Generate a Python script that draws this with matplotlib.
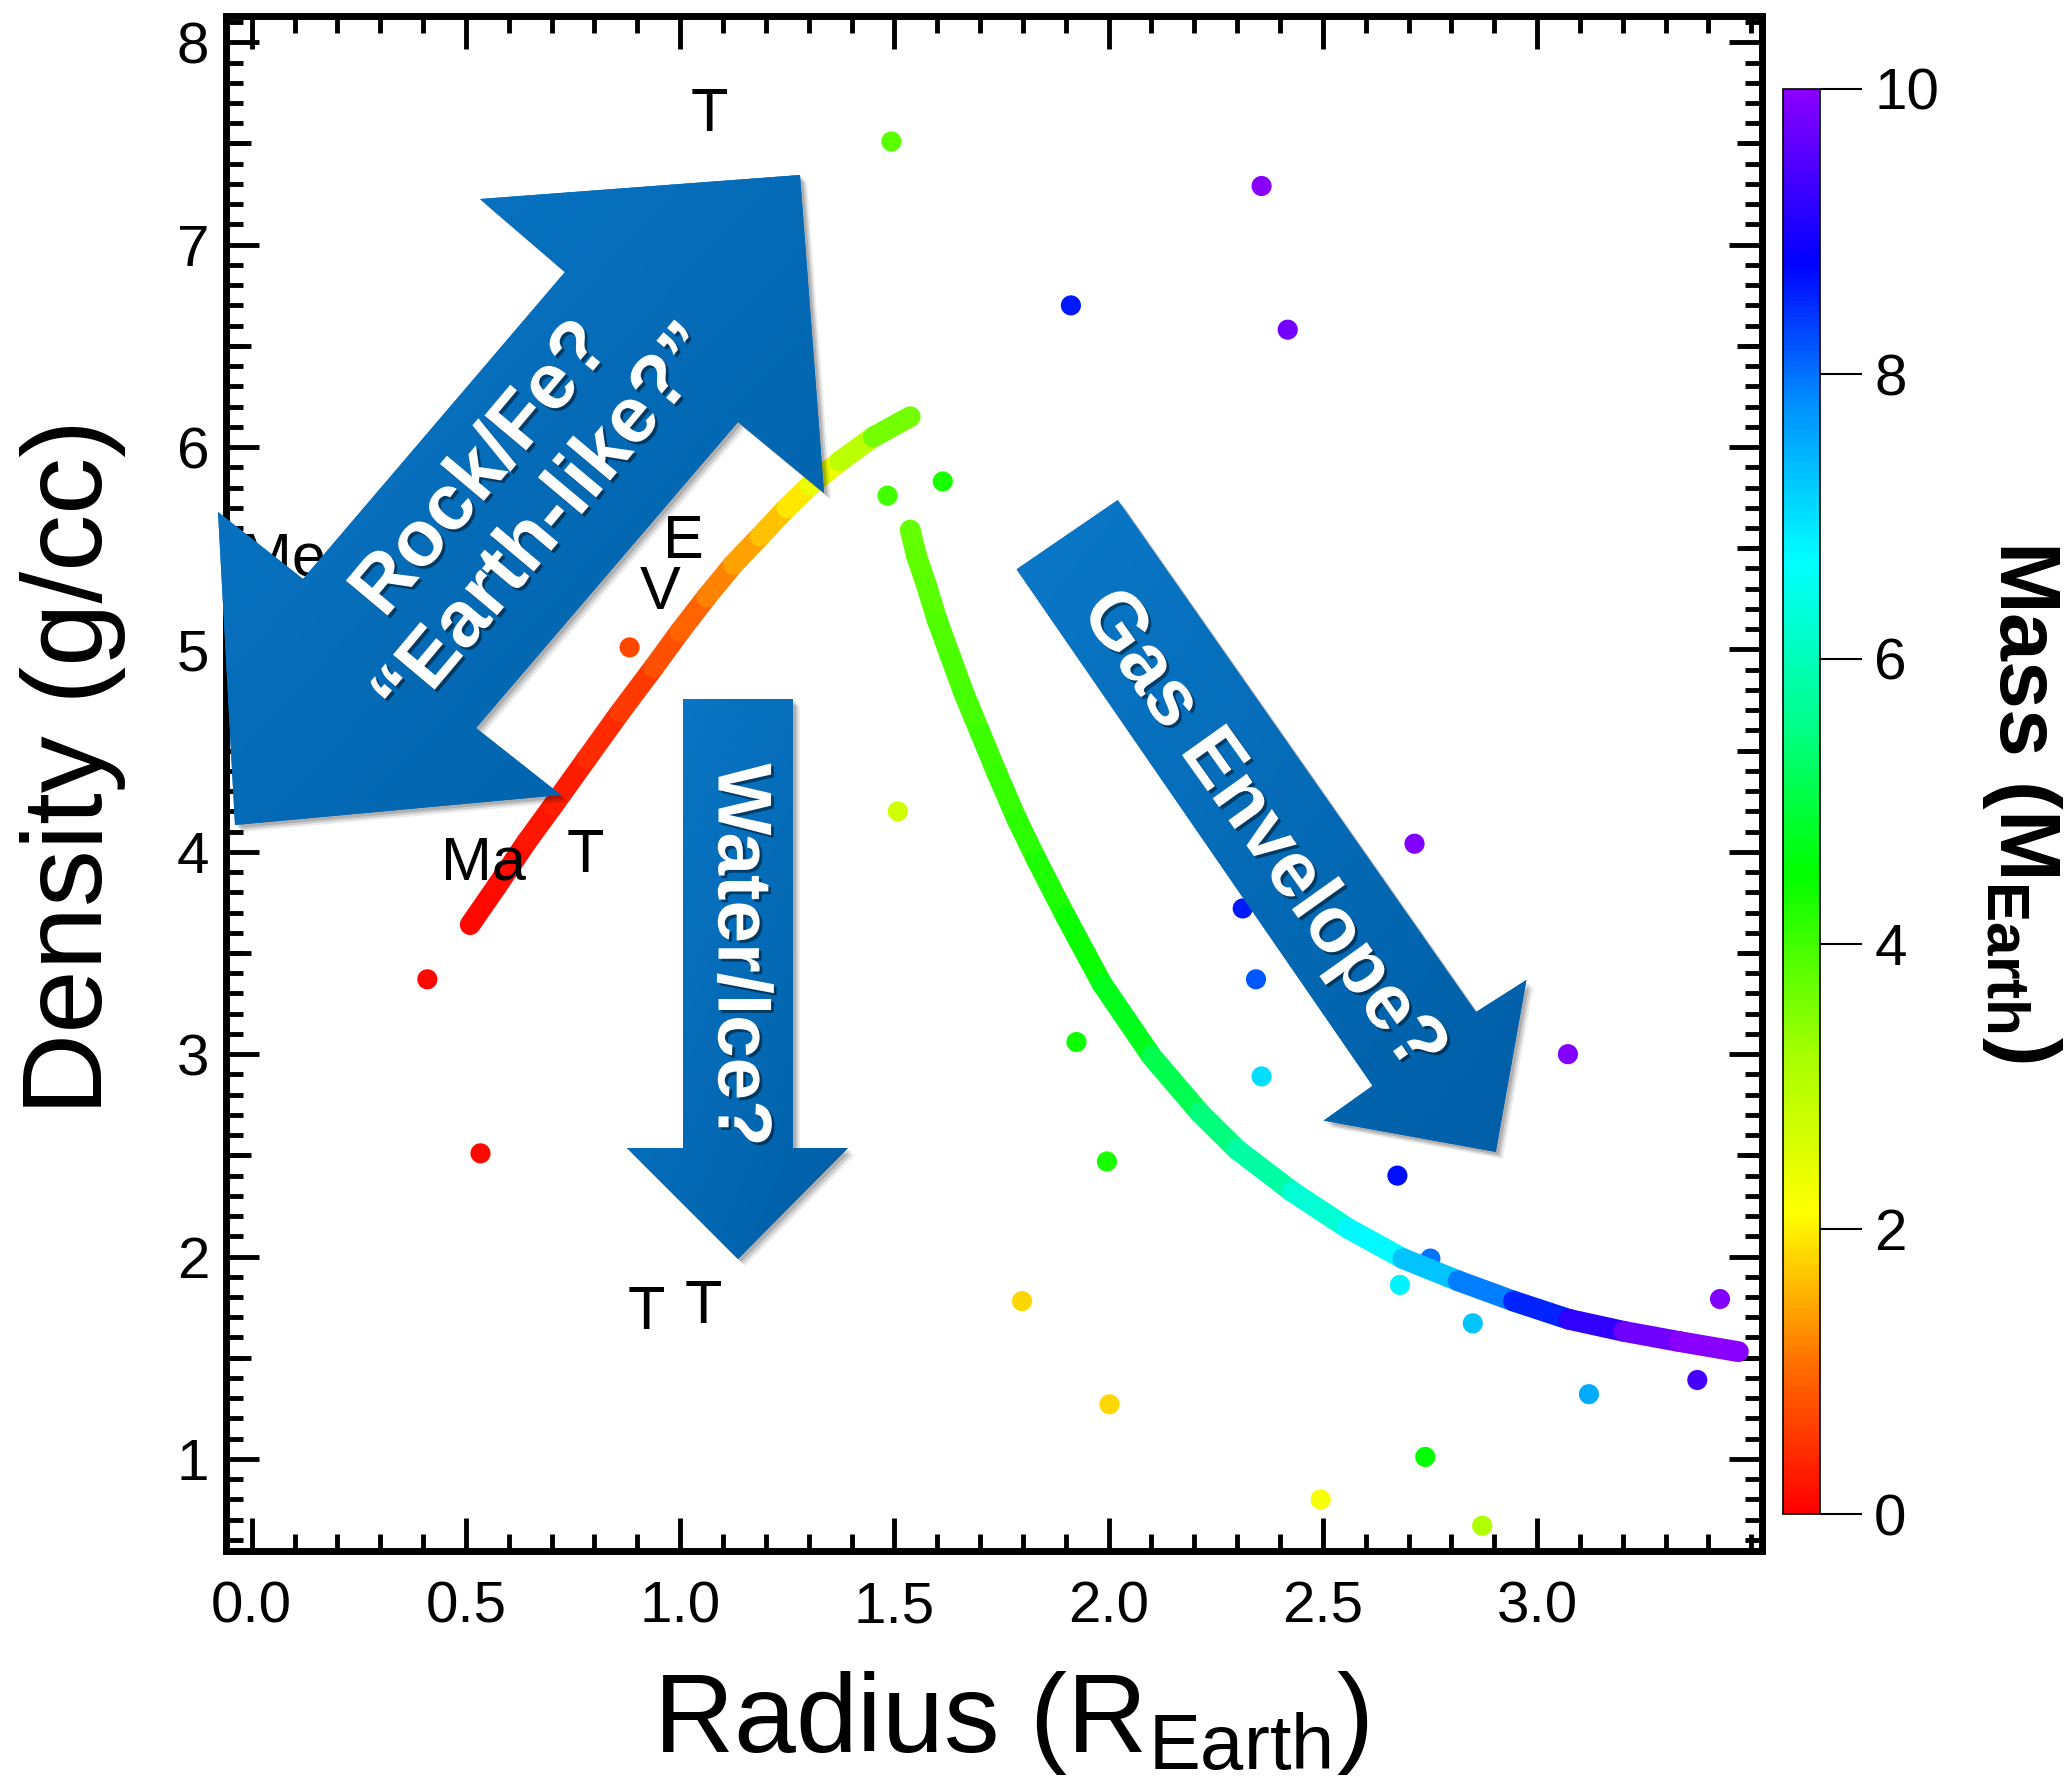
import numpy as np
import matplotlib
matplotlib.use("Agg")
import matplotlib.pyplot as plt
from matplotlib.colors import LinearSegmentedColormap, Normalize
from matplotlib.collections import LineCollection
from matplotlib.patches import Polygon
from matplotlib.ticker import MultipleLocator, FixedLocator, FormatStrFormatter
import matplotlib.patheffects as pe

plt.rcParams['font.family'] = 'Liberation Sans'
plt.rcParams['mathtext.fontset'] = 'custom'
plt.rcParams['mathtext.rm'] = 'Liberation Sans'
plt.rcParams['mathtext.it'] = 'Liberation Sans:italic'
plt.rcParams['mathtext.bf'] = 'Liberation Sans:bold'

# exoplanets: radius (R_earth), density (g/cc), mass (M_earth)
planet_radius = [1.493, 2.357, 1.912, 2.418, 1.484, 1.613, 0.882, 1.508, 2.714, 2.313,
                 2.344, 0.410, 1.925, 3.072, 2.357, 1.996, 0.534, 2.674, 2.751, 2.680,
                 2.850, 3.427, 3.374, 3.121, 1.798, 2.002, 2.739, 2.495, 2.872]
planet_density = [7.51, 7.29, 6.70, 6.58, 5.76, 5.83, 5.01, 4.20, 4.04, 3.72,
                  3.37, 3.37, 3.06, 3.00, 2.89, 2.47, 2.51, 2.40, 1.99, 1.86,
                  1.67, 1.79, 1.39, 1.32, 1.78, 1.27, 1.01, 0.80, 0.67]
planet_mass = [3.8, 10.0, 8.6, 9.8, 4.0, 4.3, 0.7, 2.7, 9.9, 8.6,
               8.2, 0.1, 4.4, 9.9, 7.0, 4.3, 0.1, 8.7, 8.0, 6.8,
               7.3, 9.9, 9.4, 7.5, 1.8, 1.8, 4.5, 2.2, 3.1]

# rocky (Earth-like) track
rock_radius = [0.510, 0.572, 0.642, 0.704, 0.782, 0.860, 0.938, 1.000, 1.062, 1.124,
               1.187, 1.249, 1.303, 1.373, 1.451, 1.537]
rock_density = [3.64, 3.83, 4.05, 4.23, 4.46, 4.69, 4.91, 5.09, 5.26, 5.42,
                5.56, 5.70, 5.81, 5.93, 6.05, 6.15]
rock_mass = [0.09, 0.12, 0.18, 0.25, 0.35, 0.5, 0.65, 0.85, 1.05, 1.3,
             1.55, 1.8, 2.1, 2.6, 3.3, 3.9]

# gas envelope track
gas_radius = [1.537, 1.552, 1.576, 1.599, 1.630, 1.661, 1.700, 1.739, 1.786, 1.832,
              1.900, 1.984, 2.100, 2.213, 2.299, 2.429, 2.558, 2.687, 2.816, 2.945,
              3.074, 3.203, 3.332, 3.470]
gas_density = [5.59, 5.46, 5.31, 5.15, 4.97, 4.79, 4.59, 4.39, 4.16, 3.96,
               3.68, 3.35, 2.99, 2.71, 2.53, 2.32, 2.14, 1.99, 1.88, 1.78,
               1.69, 1.63, 1.58, 1.53]
gas_mass = [3.7, 3.75, 3.8, 3.85, 3.9, 3.95, 4.0, 4.05, 4.1, 4.2,
            4.35, 4.55, 4.9, 5.3, 5.6, 6.0, 6.5, 7.0, 7.6, 8.2,
            8.9, 9.5, 10.0, 10.0]

# solar system labels
ss_names = ["T", "Me", "E", "V", "Ma", "T", "T", "T"]
ss_radius = [1.067, 0.074, 1.008, 0.953, 0.541, 0.778, 0.922, 1.055]
ss_density = [7.64, 5.44, 5.53, 5.275, 3.94, 3.977, 1.72, 1.75]

W, H = 2070, 1786

cmap = LinearSegmentedColormap.from_list('mass', [
    (0.0, '#ff0000'), (0.1, '#ff6a00'), (0.21, '#ffff00'), (0.32, '#a8ff00'),
    (0.45, '#00ff00'), (0.56, '#00ff90'), (0.67, '#00ffff'), (0.78, '#0090ff'),
    (0.88, '#0000ff'), (1.0, '#8a00ff')])
norm = Normalize(0, 10)

fig = plt.figure(figsize=(W / 100, H / 100), dpi=100)
ax = fig.add_axes([226 / W, 1 - 1551 / H, 1536 / W, 1535 / H])


def band(x, y, m):
    pts = np.column_stack([x, y])
    segs = np.stack([pts[:-1], pts[1:]], axis=1)
    m = np.asarray(m)
    lc = LineCollection(segs, cmap=cmap, norm=norm, linewidths=15,
                        capstyle='round', joinstyle='round', zorder=3)
    lc.set_array((m[:-1] + m[1:]) / 2)
    ax.add_collection(lc)


band(rock_radius, rock_density, rock_mass)
band(gas_radius, gas_density, gas_mass)
ax.scatter(planet_radius, planet_density, c=planet_mass, cmap=cmap, norm=norm,
           s=210, edgecolors='none', zorder=2)

for name, xr, yd in zip(ss_names, ss_radius, ss_density):
    ax.text(xr, yd, name, fontsize=44, ha='center', va='center', zorder=4)

ax.set_xlim(-0.06, 3.525)
ax.set_ylim(0.545, 8.13)
ax.xaxis.set_major_locator(FixedLocator(np.arange(0, 3.01, 0.5)))
ax.xaxis.set_major_formatter(FormatStrFormatter('%.1f'))
ax.xaxis.set_minor_locator(MultipleLocator(0.1))
ax.yaxis.set_major_locator(FixedLocator(np.arange(1, 9, 1)))
ax.yaxis.set_major_formatter(FormatStrFormatter('%d'))
ax.yaxis.set_minor_locator(MultipleLocator(0.1))
ax.tick_params(which='both', direction='in', top=True, right=True, width=3.5)
ax.tick_params(which='major', length=24, labelsize=42)
ax.tick_params(which='minor', length=12)
ax.tick_params(axis='x', which='major', pad=21)
ax.tick_params(axis='y', which='major', pad=12)
for s in ax.spines.values():
    s.set_linewidth(5)

# half-unit ticks on the density axis
for side in ('left', 'right'):
    sec = ax.secondary_yaxis(side)
    sec.yaxis.set_major_locator(FixedLocator(np.arange(1.5, 8, 1.0)))
    sec.tick_params(direction='in', length=18, width=3.5,
                    labelleft=False, labelright=False)
    for s in sec.spines.values():
        s.set_visible(False)

ax.set_xlabel(r'Radius (R$_{\rm Earth}$)', fontsize=80)
ax.xaxis.set_label_coords(0.511, -0.112)
ax.xaxis.label.set_va('center')
ax.set_ylabel('Density (g/cc)', fontsize=82)
ax.yaxis.set_label_coords(-0.0996, 0.511)
ax.yaxis.label.set_va('center')

# colorbar
cax = fig.add_axes([1783 / W, 1 - 1514 / H, 37 / W, 1425 / H])
sm = plt.cm.ScalarMappable(norm=norm, cmap=cmap)
cb = fig.colorbar(sm, cax=cax, ticks=np.arange(0, 11, 2))
cb.outline.set_linewidth(1.2)
cb.ax.tick_params(direction='out', length=30, width=1.5, labelsize=42, pad=9)
fig.text(2022 / W, 1 - 802 / H, r'Mass (M$_{\mathbf{Earth}}$)', rotation=270,
         ha='center', va='center', fontsize=62, fontweight='bold')

# annotation arrows, drawn in pixel space on a transparent overlay
ov = fig.add_axes([0, 0, 1, 1])
ov.set_xlim(0, W)
ov.set_ylim(H, 0)
ov.set_autoscale_on(False)
ov.axis('off')

blue = LinearSegmentedColormap.from_list('blu', ['#0a78c8', '#005ea6'])


def block_arrow(verts, text, cx, cy, rot, size=57):
    verts = np.asarray(verts, dtype=float)
    for off, a in ((7, 0.08), (5, 0.12), (3, 0.15)):
        ov.add_patch(Polygon(verts + [off, off], closed=True, fc='k', ec='none',
                             alpha=a, zorder=1))
    poly = Polygon(verts, closed=True, fc='#0468b4', ec='none', zorder=2)
    ov.add_patch(poly)
    x0, y0 = verts.min(axis=0)
    x1, y1 = verts.max(axis=0)
    gx, gy = np.meshgrid(np.linspace(0, 1, 64), np.linspace(0, 1, 64))
    im = ov.imshow((gx + gy) / 2, extent=(x0, x1, y1, y0), cmap=blue,
                   aspect='auto', interpolation='bilinear', zorder=3)
    im.set_clip_path(poly)
    ov.text(cx, cy, text, rotation=rot, rotation_mode='anchor', ha='center',
            va='center', multialignment='center', color='white', fontsize=size,
            fontweight='bold', linespacing=1.15, zorder=4,
            path_effects=[pe.withSimplePatchShadow(offset=(2, -2),
                                                   shadow_rgbFace='k', alpha=0.45)])


block_arrow([(800, 175), (824, 493), (738, 422), (476, 728), (561, 795),
             (235, 825), (218, 512), (303, 579), (565, 272), (480, 199)],
            'Rock/Fe?\n\u201cEarth-like?\u201d', 515, 497, 50)
block_arrow([(683, 699), (793, 699), (793, 1148), (848, 1148), (738, 1259),
             (627, 1148), (683, 1148)],
            'Water/Ice?', 738, 955, -90, size=55)
block_arrow([(1117.7, 500.1), (1475.9, 1012.1), (1526.4, 980), (1495.8, 1151.9),
             (1323.6, 1120.6), (1372.6, 1085.8), (1016.6, 569.3)],
            'Gas Envelope?', 1262, 832, -54.5)

fig.savefig('out.png', dpi=100)
